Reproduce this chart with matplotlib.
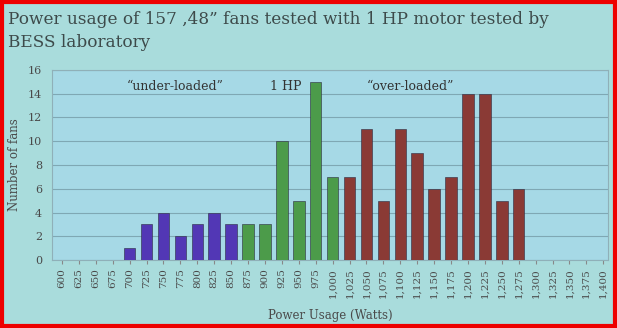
import matplotlib.pyplot as plt
from matplotlib.patches import Rectangle

# data
watts = list(range(600, 1401, 25))
labels = [f"{w:,}" for w in watts]
fans = [0, 0, 0, 0, 1, 3, 4, 2, 3, 4, 3,
        3, 3, 10, 5, 15, 7,
        7, 11, 5, 11, 9, 6, 7, 14, 14, 5, 6,
        0, 0, 0, 0, 0]
group = (["under"] * 11) + (["hp"] * 6) + (["over"] * 11) + (["none"] * 5)
group_colors = {"under": "#5237b5", "hp": "#4c9b4a", "over": "#8a3a35", "none": "#000000"}

plt.rcParams['font.family'] = ['DejaVu Serif']

fig = plt.figure(figsize=(6.17, 3.28), dpi=100, facecolor="#a9dcdc")
ax = fig.add_axes([0.084, 0.207, 0.902, 0.58], facecolor="#a6d9e6")

xs = range(len(watts))
for i, v in enumerate(fans):
    if v > 0:
        ax.bar(i, v, width=0.68, color=group_colors[group[i]], edgecolor="#2a2a40", linewidth=0.4, zorder=3)

ax.set_xlim(-0.6, 32.3)
ax.set_ylim(0, 16)
ax.set_yticks(range(0, 17, 2))
ax.set_xticks(list(xs))
ax.set_xticklabels(labels, rotation=90, fontsize=7.5, color="#4a4a4a")
ax.tick_params(axis='y', labelsize=8, colors="#4a4a4a", length=0, pad=7)
ax.tick_params(axis='x', length=3, color="#888888", pad=3)
ax.grid(axis='y', color="#7fa8b4", linewidth=0.8, zorder=0)
for s in ax.spines.values():
    s.set_color("#8fb0b8")
    s.set_linewidth(0.8)

ax.set_ylabel("Number of fans", fontsize=8.5, color="#4a4a4a", labelpad=5)
ax.set_xlabel("Power Usage (Watts)", fontsize=8.5, color="#4a4a4a", labelpad=8)

ax.text(6.7, 14.6, "\u201cunder-loaded\u201d", ha='center', va='center', fontsize=9, color="#333333")
ax.text(13.2, 14.6, "1 HP", ha='center', va='center', fontsize=9, color="#333333")
ax.text(20.6, 14.6, "\u201cover-loaded\u201d", ha='center', va='center', fontsize=9, color="#333333")

fig.text(0.013, 0.905, "Power usage of 157 ,48\u201d fans tested with 1 HP motor tested by\nBESS laboratory",
         ha='left', va='center', fontsize=12.2, color="#3d4a4a", linespacing=1.45)

fig.patches.append(Rectangle((0.004, 0.006), 0.992, 0.988, transform=fig.transFigure,
                             fill=False, edgecolor="#ee0000", linewidth=3))

fig.savefig("out.png", dpi=100, facecolor=fig.get_facecolor())
